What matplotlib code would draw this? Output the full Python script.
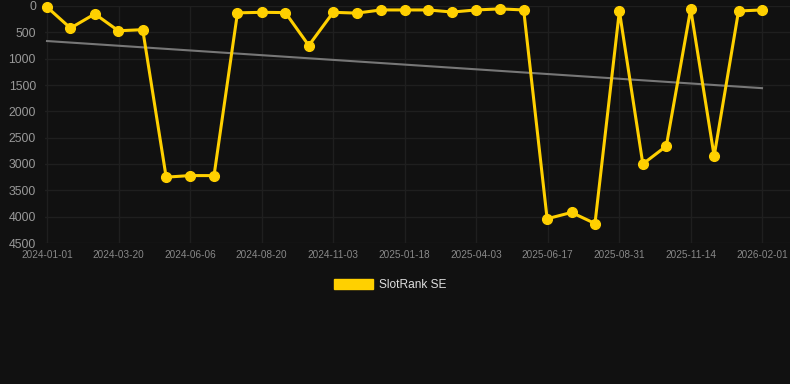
import matplotlib
matplotlib.use('Agg')
import matplotlib.pyplot as plt
import matplotlib.dates as mdates
from matplotlib.patches import Patch
import numpy as np
import pandas as pd

# dữ liệu
dates = ['2024-01-01', '2024-01-26', '2024-02-21', '2024-03-17', '2024-04-12',
         '2024-05-07', '2024-06-01', '2024-06-27', '2024-07-22', '2024-08-17',
         '2024-09-11', '2024-10-06', '2024-11-01', '2024-11-26', '2024-12-22',
         '2025-01-16', '2025-02-10', '2025-03-08', '2025-04-02', '2025-04-28',
         '2025-05-23', '2025-06-17', '2025-07-13', '2025-08-07', '2025-09-02',
         '2025-09-27', '2025-10-22', '2025-11-17', '2025-12-12', '2026-01-07',
         '2026-02-01']
ranks = [20, 420, 150, 470, 450,
         3250, 3220, 3220, 130, 120,
         125, 750, 120, 135, 75,
         75, 75, 115, 75, 55,
         75, 4040, 3920, 4130, 95,
         3000, 2660, 55, 2850, 95,
         75]
trend_dates = ['2024-01-01', '2026-02-01']
trend_values = [665, 1560]
tick_labels = ['2024-01-01', '2024-03-20', '2024-06-06', '2024-08-20', '2024-11-03',
               '2025-01-18', '2025-04-03', '2025-06-17', '2025-08-31', '2025-11-14',
               '2026-02-01']
series_name = 'SlotRank SE'

bg = '#111111'
yellow = '#ffd000'

x = pd.to_datetime(dates)
xt = pd.to_datetime(trend_dates)

fig = plt.figure(figsize=(7.9, 3.84), dpi=100, facecolor=bg)
ax = fig.add_axes([45/790, (384-243)/384, 1 - 45/790, (243-6)/384])
ax.set_facecolor(bg)

ax.plot(xt, trend_values, color='#777777', linewidth=1.5, zorder=3)
ax.plot(x, ranks, color=yellow, linewidth=2.2, marker='o', markersize=7,
        zorder=5, clip_on=False)

t0 = mdates.date2num(pd.Timestamp(tick_labels[0]))
t1 = mdates.date2num(pd.Timestamp(tick_labels[-1]))
px_day = 715 / (t1 - t0)
ax.set_xlim(t0 - 2 / px_day, t0 + (790 - 47) / px_day)
ax.set_xticks(np.linspace(t0, t1, len(tick_labels)))
ax.set_xticklabels(tick_labels)
ax.set_ylim(4500, 0)
ax.set_yticks(range(0, 4501, 500))

for s in ax.spines.values():
    s.set_visible(False)
ax.grid(True, color='#1f1f1f', linewidth=1)
ax.set_axisbelow(True)
ax.tick_params(axis='x', length=0, pad=5, labelsize=7.2, labelcolor='#888888')
ax.tick_params(axis='y', length=0, pad=6.5, labelsize=8.8, labelcolor='#999999')
for lbl in ax.get_xticklabels() + ax.get_yticklabels():
    lbl.set_fontfamily('Liberation Sans')

leg = fig.legend(handles=[Patch(facecolor=yellow, edgecolor=yellow)], labels=[series_name],
                 loc='center', bbox_to_anchor=(390/790, (384-285)/384), frameon=False,
                 handlelength=3.3, handleheight=0.9, handletextpad=0.5,
                 prop={'family': 'Liberation Sans', 'size': 8.6})
for t in leg.get_texts():
    t.set_color('#dddddd')

fig.savefig('out.png', dpi=100, facecolor=bg)
